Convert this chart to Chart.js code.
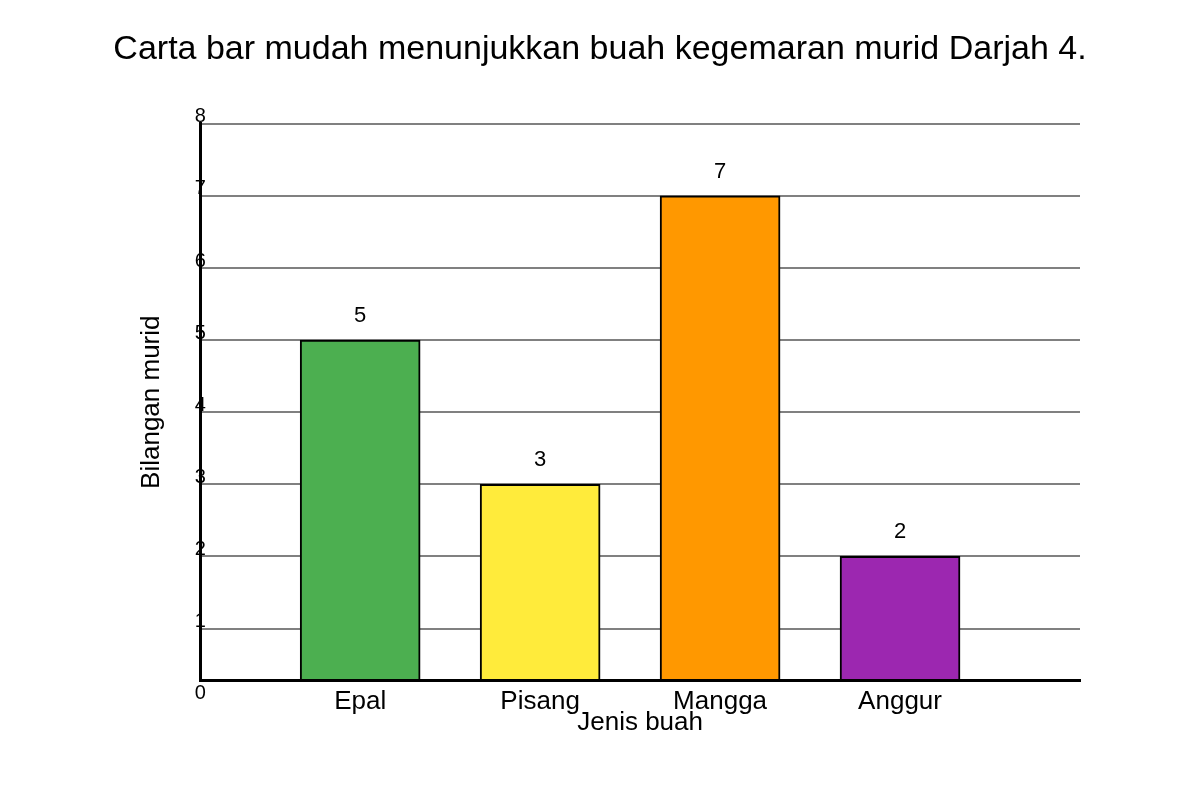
<!DOCTYPE html>
<html>
<head>
<meta charset="utf-8">
<title>Buah kegemaran murid Darjah 4</title>
<script src="https://cdn.jsdelivr.net/npm/chart.js@4/dist/chart.umd.min.js"></script>
<style>
  html, body { margin: 0; padding: 0; background: #fff; }
  #wrap { width: 1200px; height: 800px; }
</style>
</head>
<body>
<div id="wrap"><canvas id="chart" width="1200" height="800"></canvas></div>
<script>
const categories = ["Epal", "Pisang", "Mangga", "Anggur"];
const counts = [5, 3, 7, 2];
const barColors = ["#4CAF50", "#FFEB3B", "#FF9800", "#9C27B0"];
const yTicks = [0, 1, 2, 3, 4, 5, 6, 7, 8];

const FONT = "'Liberation Sans', Arial, sans-serif";
// the axis meets the bars a little above zero in the original drawing
const yMin = 8 - 556 / 72;

// tick labels sit on top of the y axis line, just above each grid line
const yLabelPlugin = {
  id: "yLabels",
  afterDraw(chart) {
    const ctx = chart.ctx;
    const y = chart.scales.y;
    const x = chart.scales.x;
    ctx.save();
    ctx.font = "20px " + FONT;
    ctx.fillStyle = "#000";
    ctx.textAlign = "center";
    ctx.textBaseline = "middle";
    yTicks.forEach((v) => {
      ctx.fillText(String(v), x.left, y.getPixelForValue(v) - 7);
    });
    ctx.restore();
  },
};

const valueLabelPlugin = {
  id: "valueLabels",
  afterDatasetsDraw(chart) {
    const ctx = chart.ctx;
    const meta = chart.getDatasetMeta(0);
    ctx.save();
    ctx.font = "22px " + FONT;
    ctx.fillStyle = "#000";
    ctx.textAlign = "center";
    ctx.textBaseline = "middle";
    meta.data.forEach((bar, i) => {
      ctx.fillText(String(counts[i]), bar.x, bar.y - 24);
    });
    ctx.restore();
  },
};

new Chart(document.getElementById("chart"), {
  type: "bar",
  data: {
    datasets: [
      {
        data: counts.map((v, i) => ({ x: i, y: v })),
        backgroundColor: barColors,
        borderColor: "#000",
        borderWidth: 2,
        borderSkipped: false,
        barThickness: 120,
        base: yMin,
      },
    ],
  },
  options: {
    responsive: false,
    animation: false,
    layout: { padding: { left: 0, right: 0, top: 0, bottom: 62 } },
    plugins: {
      legend: { display: false },
      tooltip: { enabled: false },
      title: {
        display: true,
        text: "Carta bar mudah menunjukkan buah kegemaran murid Darjah 4.",
        color: "#000",
        font: { family: FONT, size: 34, weight: "normal", lineHeight: 1.2 },
        padding: { top: 29, bottom: 54 },
      },
    },
    scales: {
      x: {
        type: "linear",
        offset: false,
        min: -8 / 9,
        max: 4,
        afterBuildTicks(scale) {
          scale.ticks = categories.map((c, i) => ({ value: i }));
        },
        // keep an empty margin right of the plot, like the original
        afterFit(scale) {
          scale.paddingRight = 120;
        },
        grid: { display: false, drawTicks: false, offset: false },
        border: { display: true, color: "#000", width: 3 },
        ticks: {
          color: "#000",
          font: { family: FONT, size: 26, lineHeight: 1.2 },
          padding: 6,
          maxRotation: 0,
          callback: (v) => categories[v],
        },
        title: {
          display: true,
          text: "Jenis buah",
          color: "#000",
          font: { family: FONT, size: 26, lineHeight: 1.2 },
          padding: { top: -17, bottom: 0 },
        },
      },
      y: {
        type: "linear",
        min: yMin,
        max: 8,
        afterBuildTicks(scale) {
          scale.ticks = yTicks.filter((v) => v >= 1).map((v) => ({ value: v }));
        },
        grid: { color: "#808080", lineWidth: 2, drawTicks: false },
        border: { display: true, color: "#000", width: 3 },
        ticks: { display: false },
        title: {
          display: true,
          text: "Bilangan murid",
          color: "#000",
          font: { family: FONT, size: 26, lineHeight: 1.2 },
          padding: { top: 136, bottom: 33 },
        },
      },
    },
  },
  plugins: [yLabelPlugin, valueLabelPlugin],
});
</script>
</body>
</html>
